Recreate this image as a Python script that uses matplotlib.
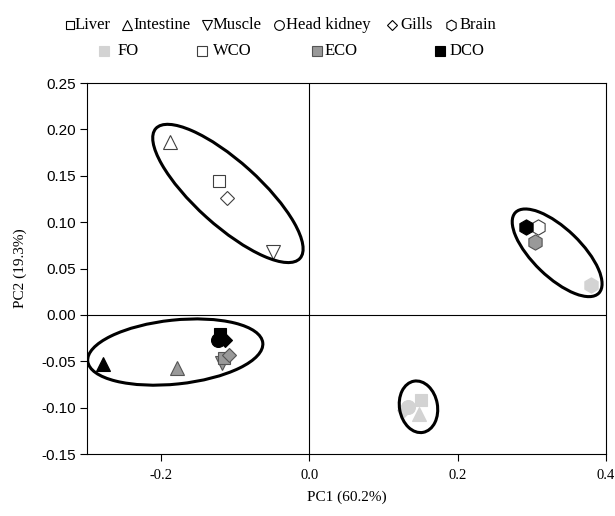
import matplotlib
matplotlib.use('Agg')
import matplotlib.pyplot as plt
from matplotlib.patches import Ellipse
from matplotlib.lines import Line2D
from matplotlib.transforms import ScaledTranslation

# tissues and diets
tissues = ['Liver', 'Intestine', 'Muscle', 'Head kidney', 'Gills', 'Brain']
diets = ['FO', 'WCO', 'ECO', 'DCO']

# PCA scores
point_diet = ['FO', 'FO', 'FO', 'FO', 'FO',
              'WCO', 'WCO', 'WCO', 'WCO', 'WCO',
              'DCO', 'DCO', 'DCO', 'DCO', 'DCO',
              'ECO', 'ECO', 'ECO', 'ECO', 'ECO']
point_tissue = ['Gills', 'Head kidney', 'Liver', 'Intestine', 'Brain',
                'Intestine', 'Liver', 'Gills', 'Muscle', 'Brain',
                'Intestine', 'Head kidney', 'Gills', 'Liver', 'Brain',
                'Intestine', 'Muscle', 'Liver', 'Gills', 'Brain']
pc1 = [0.128, 0.133, 0.150, 0.148, 0.380,
       -0.188, -0.122, -0.111, -0.049, 0.308,
       -0.278, -0.123, -0.114, -0.1205, 0.2924,
       -0.178, -0.118, -0.115, -0.109, 0.304]
pc2 = [-0.103, -0.099, -0.092, -0.107, 0.032,
       0.187, 0.144, 0.126, 0.068, 0.0945,
       -0.053, -0.027, -0.027, -0.0205, 0.0945,
       -0.057, -0.052, -0.046, -0.043, 0.079]

# grouping ellipses: centre (data), width/height (inches), angle
ell_x = [-0.110, 0.334, -0.181, 0.147]
ell_y = [0.131, 0.067, -0.040, -0.099]
ell_w = [1.94, 1.16, 1.76, 0.38]
ell_h = [0.64, 0.48, 0.64, 0.52]
ell_a = [-42, -44, 6, 10]

marker_of = {'Liver': 's', 'Intestine': '^', 'Muscle': 'v',
             'Head kidney': 'o', 'Gills': 'D', 'Brain': 'h'}
size_of = {'s': 9, '^': 10, 'v': 10, 'o': 10, 'D': 7.5, 'h': 11}
face_of = {'FO': '#d3d3d3', 'WCO': 'white', 'ECO': '#999999', 'DCO': 'black'}
edge_of = {'FO': '#d3d3d3', 'WCO': '#404040', 'ECO': '#555555', 'DCO': 'black'}

serif = 'Liberation Serif'
sans = 'Liberation Sans'

fig = plt.figure(figsize=(6.15, 5.16), dpi=100)
ax = fig.add_axes([0.1415, 0.12, 0.844, 0.719])

ax.axhline(0, color='black', lw=0.8, zorder=1)
ax.axvline(0, color='black', lw=0.8, zorder=1)

for d, t, x, y in zip(point_diet, point_tissue, pc1, pc2):
    m = marker_of[t]
    ax.plot(x, y, marker=m, ms=size_of[m], mfc=face_of[d], mec=edge_of[d],
            mew=0.8, ls='none', zorder=3)

for cx, cy, w, h, a in zip(ell_x, ell_y, ell_w, ell_h, ell_a):
    tr = fig.dpi_scale_trans + ScaledTranslation(cx, cy, ax.transData)
    ax.add_patch(Ellipse((0, 0), w, h, angle=a, transform=tr, fill=False,
                         ec='black', lw=2.2, zorder=4))

ax.set_xlim(-0.3, 0.4)
ax.set_ylim(-0.15, 0.25)
ax.set_xticks([-0.2, 0.0, 0.2, 0.4])
ax.set_xticklabels(['-0.2', '0.0', '0.2', '0.4'], fontfamily=serif, fontsize=10.5)
yt = [-0.15, -0.10, -0.05, 0.0, 0.05, 0.10, 0.15, 0.20, 0.25]
ax.set_yticks(yt)
ax.set_yticklabels(['%.2f' % v for v in yt], fontfamily=sans, fontsize=11)
ax.tick_params(direction='out', length=5, width=0.8)
ax.tick_params(axis='x', pad=6)
ax.tick_params(axis='y', pad=3)
for s in ax.spines.values():
    s.set_linewidth(0.8)

ax.set_xlabel('PC1 (60.2%)', fontfamily=serif, fontsize=11, labelpad=6)
ax.set_ylabel('PC2 (19.3%)', fontfamily=serif, fontsize=11, labelpad=10)

# legend rows, placed by hand like the original
W, H = 615.0, 516.0
row1_mx = [70, 127, 207, 279, 392, 451]
row1_tx = [75, 133, 213, 286, 400, 460]
for t, mx, tx in zip(tissues, row1_mx, row1_tx):
    m = marker_of[t]
    fig.add_artist(Line2D([mx / W], [1 - 25 / H], transform=fig.transFigure,
                          marker=m, ms=size_of[m] * 0.7, mfc='white',
                          mec='black', mew=0.8, ls='none'))
    fig.text(tx / W, 1 - 25 / H, t, fontfamily=serif, fontsize=12,
             va='center', ha='left')

row2_mx = [104, 202, 317, 440]
row2_tx = [118, 213, 325, 450]
for d, mx, tx in zip(diets, row2_mx, row2_tx):
    fig.add_artist(Line2D([mx / W], [1 - 51 / H], transform=fig.transFigure,
                          marker='s', ms=7, mfc=face_of[d], mec=edge_of[d],
                          mew=0.8, ls='none'))
    fig.text(tx / W, 1 - 51 / H, d, fontfamily=serif, fontsize=12,
             va='center', ha='left')

fig.savefig('out.png', dpi=100)
